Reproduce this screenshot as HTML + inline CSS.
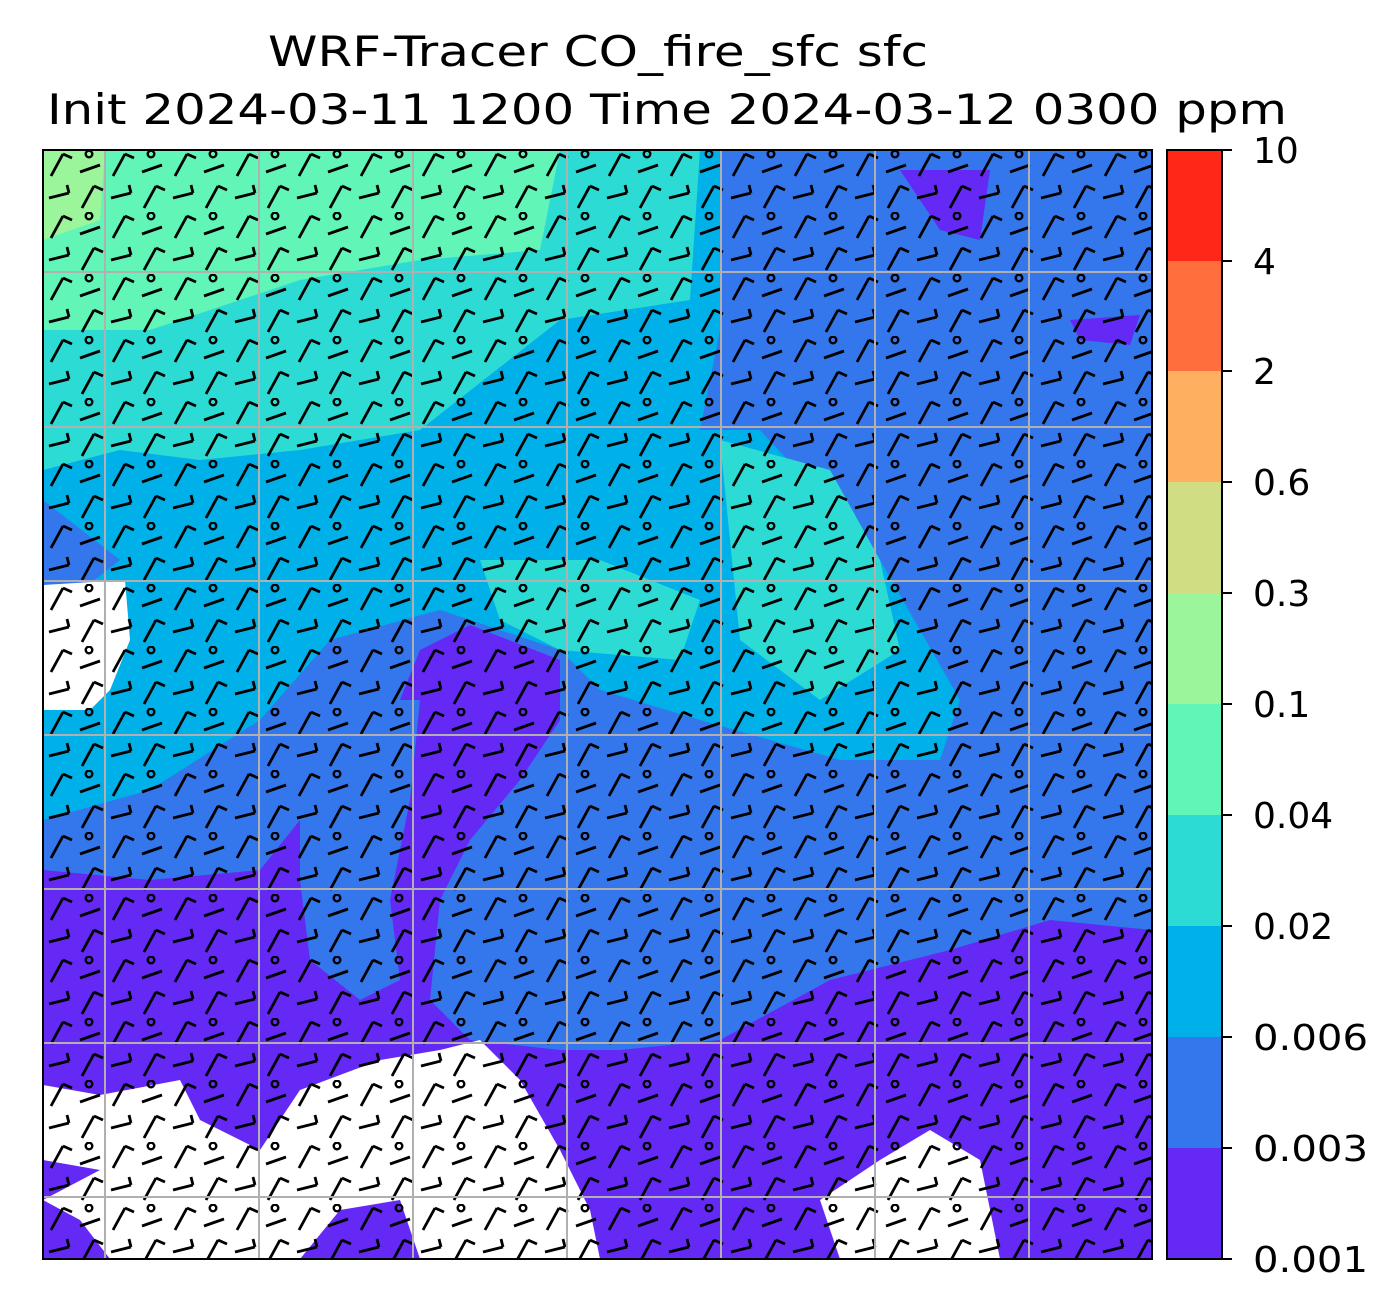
<!DOCTYPE html>
<html><head><meta charset="utf-8"><style>
body{margin:0;background:#fff;}
svg{display:block;font-family:"DejaVu Sans","Liberation Sans",sans-serif;}
</style></head><body>
<svg width="1400" height="1313" viewBox="0 0 1400 1313" xmlns="http://www.w3.org/2000/svg">
<defs>
<clipPath id="pc"><rect x="43" y="150" width="1109" height="1109"/></clipPath>
<pattern id="barbs" x="43" y="150" width="62" height="62" patternUnits="userSpaceOnUse">
<path d="M8 26 L20 4 M20 4 L29 8 M39 58 L51 36 M51 36 L60 40 M37 22 L57 15 M6 48 L26 43 M26 43 L24 35" stroke="#000" stroke-width="2.8" fill="none"/>
<circle cx="46" cy="4" r="3.3" fill="none" stroke="#000" stroke-width="2.4"/>
</pattern>
</defs>
<text x="598" y="66" font-size="42" text-anchor="middle" textLength="660" lengthAdjust="spacingAndGlyphs">WRF-Tracer CO_fire_sfc sfc</text>
<text x="667" y="124" font-size="42" text-anchor="middle" textLength="1240" lengthAdjust="spacingAndGlyphs">Init 2024-03-11 1200 Time 2024-03-12 0300 ppm</text>
<g clip-path="url(#pc)">
<rect x="43" y="150" width="1109" height="1109" fill="#3476eb"/>
<path d="M43 150 L720 150 L720 330 L700 430 L760 430 L880 560 L960 700 L940 760 L840 760 L700 720 L600 690 L560 650 L440 610 L330 640 L260 720 L150 790 L43 820 Z" fill="#00b0e8"/>
<path d="M43 150 L700 150 L690 300 L560 320 L420 430 L300 450 L200 460 L120 450 L43 470 Z" fill="#2ddbd5"/>
<path d="M43 150 L560 150 L540 250 L420 260 L300 280 L150 330 L43 330 Z" fill="#62f5b8"/>
<path d="M43 150 L105 150 L100 220 L43 240 Z" fill="#9bf59a"/>
<path d="M720 440 L830 470 L880 560 L900 650 L820 700 L740 640 Z" fill="#2ddbd5"/>
<path d="M480 560 L600 560 L700 600 L680 660 L560 650 L500 620 Z" fill="#2ddbd5"/>
<path d="M43 500 L120 560 L43 620 Z" fill="#3476eb"/>
<path d="M43 870 L150 880 L260 870 L300 820 L330 760 L400 700 L420 650 L470 625 L560 660 L560 720 L520 780 L470 840 L440 900 L430 1000 L470 1040 L560 1050 L620 1050 L720 1040 L830 980 L950 950 L1050 920 L1152 930 L1152 1259 L43 1259 Z" fill="#6429f5"/>
<path d="M300 760 L360 700 L420 700 L410 800 L390 900 L400 980 L360 1000 L310 960 L300 880 Z" fill="#3476eb"/>
<path d="M900 170 L990 170 L980 240 L940 230 Z" fill="#6429f5"/>
<path d="M1070 320 L1140 315 L1130 345 L1080 340 Z" fill="#6429f5"/>
<path d="M43 585 L125 580 L130 640 L110 690 L90 710 L43 710 Z" fill="#fff"/>
<path d="M43 1085 L100 1095 L180 1080 L200 1120 L260 1150 L300 1090 L380 1060 L440 1050 L480 1040 L520 1080 L560 1150 L590 1210 L600 1259 L420 1259 L400 1200 L340 1210 L300 1259 L110 1259 L80 1220 L43 1200 Z" fill="#fff"/>
<path d="M43 1160 L100 1170 L43 1200 Z" fill="#6429f5"/>
<path d="M820 1200 L880 1160 L930 1130 L980 1160 L1000 1259 L840 1259 Z" fill="#fff"/>
<rect x="43" y="150" width="1109" height="1109" fill="url(#barbs)"/>
</g>
<g stroke="#b0b0b0" stroke-width="2">
<line x1="105" y1="150" x2="105" y2="1259"/><line x1="259" y1="150" x2="259" y2="1259"/><line x1="413" y1="150" x2="413" y2="1259"/><line x1="567" y1="150" x2="567" y2="1259"/><line x1="721" y1="150" x2="721" y2="1259"/><line x1="875" y1="150" x2="875" y2="1259"/><line x1="1029" y1="150" x2="1029" y2="1259"/>
<line x1="43" y1="272" x2="1152" y2="272"/><line x1="43" y1="427" x2="1152" y2="427"/><line x1="43" y1="581" x2="1152" y2="581"/><line x1="43" y1="735" x2="1152" y2="735"/><line x1="43" y1="889" x2="1152" y2="889"/><line x1="43" y1="1043" x2="1152" y2="1043"/><line x1="43" y1="1197" x2="1152" y2="1197"/>
</g>
<rect x="43" y="150" width="1109" height="1109" fill="none" stroke="#000" stroke-width="2"/>
<g>
<rect x="1167" y="1148" width="55" height="111" fill="#6429f5"/>
<rect x="1167" y="1037" width="55" height="111" fill="#3476eb"/>
<rect x="1167" y="926" width="55" height="111" fill="#00b0e8"/>
<rect x="1167" y="815" width="55" height="111" fill="#2ddbd5"/>
<rect x="1167" y="704" width="55" height="111" fill="#62f5b8"/>
<rect x="1167" y="593" width="55" height="111" fill="#9bf59a"/>
<rect x="1167" y="482" width="55" height="111" fill="#d0dd82"/>
<rect x="1167" y="371" width="55" height="111" fill="#ffaf60"/>
<rect x="1167" y="261" width="55" height="110" fill="#ff6e3c"/>
<rect x="1167" y="150" width="55" height="111" fill="#ff2818"/>
<rect x="1167" y="150" width="55" height="1109" fill="none" stroke="#000" stroke-width="2"/>
</g>
<g stroke="#000" stroke-width="2">
<line x1="1222" y1="150" x2="1232" y2="150"/><line x1="1222" y1="261" x2="1232" y2="261"/><line x1="1222" y1="371" x2="1232" y2="371"/><line x1="1222" y1="482" x2="1232" y2="482"/><line x1="1222" y1="593" x2="1232" y2="593"/><line x1="1222" y1="704" x2="1232" y2="704"/><line x1="1222" y1="815" x2="1232" y2="815"/><line x1="1222" y1="926" x2="1232" y2="926"/><line x1="1222" y1="1037" x2="1232" y2="1037"/><line x1="1222" y1="1148" x2="1232" y2="1148"/><line x1="1222" y1="1259" x2="1232" y2="1259"/>
</g>
<g font-size="36" fill="#000">
<text x="1253" y="163">10</text><text x="1253" y="274">4</text><text x="1253" y="384">2</text><text x="1253" y="495">0.6</text><text x="1253" y="606">0.3</text><text x="1253" y="717">0.1</text><text x="1253" y="828">0.04</text><text x="1253" y="939">0.02</text><text x="1253" y="1050" textLength="115" lengthAdjust="spacingAndGlyphs">0.006</text><text x="1253" y="1161" textLength="115" lengthAdjust="spacingAndGlyphs">0.003</text><text x="1253" y="1272" textLength="115" lengthAdjust="spacingAndGlyphs">0.001</text>
</g>
</svg>
</body></html>
